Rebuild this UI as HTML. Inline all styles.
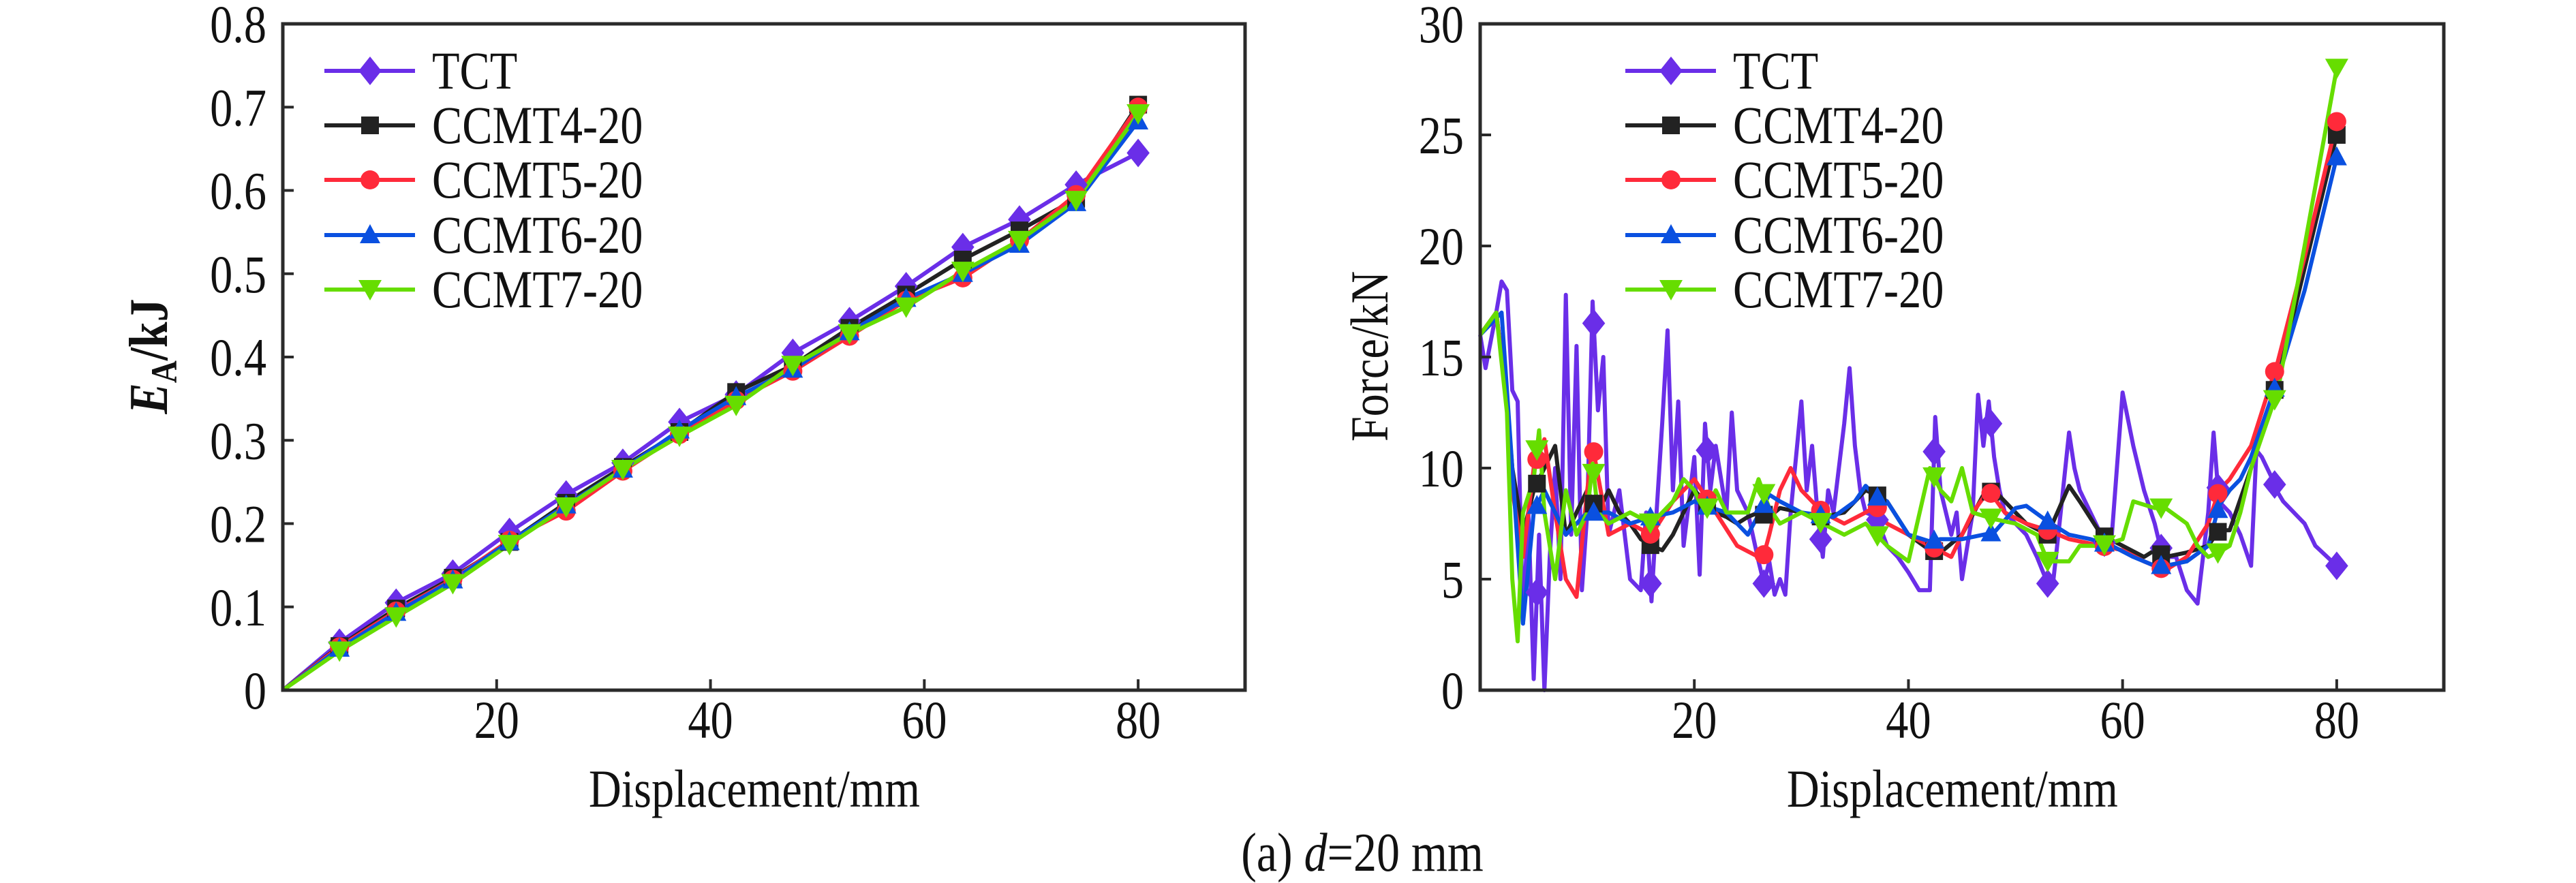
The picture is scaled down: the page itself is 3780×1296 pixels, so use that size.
<!DOCTYPE html>
<html><head><meta charset="utf-8"><style>
html,body{margin:0;padding:0;background:#fff;}
svg{display:block;font-family:"Liberation Serif",serif;}
</style></head><body>
<svg id="fig" width="3780" height="1296" viewBox="0 0 3780 1296"></svg>
<script>
// ---------- data: left chart (energy absorbed) ----------
const eaX = [0,5.3,10.6,15.9,21.2,26.5,31.8,37.1,42.4,47.7,53,58.3,63.6,68.9,74.2,80];
const eaTCT  = [0,0.057,0.105,0.14,0.19,0.235,0.273,0.322,0.355,0.405,0.443,0.485,0.532,0.565,0.607,0.645];
const eaC4   = [0,0.053,0.098,0.135,0.178,0.225,0.268,0.31,0.358,0.39,0.435,0.475,0.517,0.552,0.59,0.703];
const eaC5   = [0,0.052,0.095,0.133,0.18,0.215,0.263,0.307,0.348,0.383,0.425,0.468,0.495,0.54,0.595,0.70];
const eaC6   = [0,0.05,0.093,0.132,0.178,0.222,0.265,0.312,0.352,0.385,0.43,0.47,0.5,0.535,0.585,0.683];
const eaC7   = [0,0.047,0.088,0.128,0.175,0.22,0.265,0.305,0.342,0.39,0.428,0.46,0.503,0.54,0.588,0.692];
const eaYTicks = ["0","0.1","0.2","0.3","0.4","0.5","0.6","0.7","0.8"];
const xTickLabels = ["20","40","60","80"];
const fYTicks = ["0","5","10","15","20","25","30"];
const seriesNames = ["TCT","CCMT4-20","CCMT5-20","CCMT6-20","CCMT7-20"];
const markerX = [5.3,10.6,15.9,21.2,26.5,31.8,37.1,42.4,47.7,53,58.3,63.6,68.9,74.2,80];
// ---------- data: right chart (force) ----------
const fTCTx = [0,0.5,1.5,2,2.5,3,3.5,4,4.5,5,5.5,6,6.5,7,7.5,8,8.5,9,9.5,10,10.5,11,11.5,12,13,14,15,15.5,16,16.5,17,17.5,18,18.5,19,20,20.5,21,21.5,22,23,23.5,24,25,26,26.5,27,27.5,28,28.5,29,30,30.5,31,31.5,32,32.5,33,34,34.5,35,35.5,36,37,38,39,40,41,42,42.5,43,44,44.5,45,46,46.5,47,47.5,48,48.5,49,50,51,52,53,53.5,54,55,55.5,56,57,58,58.5,59,60,61,62,63,63.5,64,65,66,67,68,68.5,69,70,71,72,72.5,73,74,74.5,75,77,78,80];
const fTCTy = [16,14.5,17,18.4,18,13.5,13,3,8,0.5,7,0,6,10,5,17.8,7,15.5,4.5,8,17.5,12.6,15,7,9,5,4.5,8,4,8.2,12,16.2,9,13,6.5,10.5,5.2,12,9,11,8,12.5,9,8,5.8,4.8,5.8,4.3,5,4.3,8,13,9,11,8,6,9,8,12,14.5,11,9,8,7.8,6.5,6,5.3,4.5,4.5,12.3,9,7,8,5,8,13.3,11,13,10.5,9,8,7.5,7,6,4.8,4.8,7,11.6,10,9,8,7,6.4,7,13.4,11,9,7.5,6.5,6,6,4.5,3.9,8,11.6,8.5,8,7,5.6,10.8,10.5,9.5,8.9,8.5,7.5,6.5,5.6];
const fC4x = [0,1.5,2.5,3,4,5,6,7,8,9,10,11,12,13,14,15,16,17,18,19,20,21,22,23,24,25,26,27,28,30,32,34,35,36,37,38,40,42,43,45,47,48,49,51,53,55,56,58,60,62,63,64,66,68,69,70,72,74.5,77,80];
const fC4y = [16,17,13,10,7,9,10,11,7,8,9,8,9,8,7.5,6.8,6.5,6.3,7,8,9,8.5,8,7.8,7.5,7.8,8,7.8,8.2,8,7.8,8,8.5,9,8.8,8.5,7,6.3,6.2,7,8.8,9,8.5,7.5,7,9.2,8.5,7,6.5,6,6.3,6,6.2,6.5,7.2,7.2,10,14,19,25];
const fC5x = [0,1.5,2.5,3,4,5,6,7,8,9,10,10.5,12,14,16,18,20,22,24,26,26.5,27,28,29,30,32,34,36,37,38,40,42,44,46,47.5,49,51,53,55,58,60,62,64,66,68,69,70,72,74.5,77,80];
const fC5y = [16,17,13,9,6,10,11.3,8,5,4.2,9,11,7,7.5,7,8.5,9.5,8,6.5,6,6.1,7,9,10,9,8,7.5,8,8.3,7.5,7,6.5,6,8,9,8,7.5,7.2,6.8,6.5,6.3,5.8,5.4,6,7.5,9,9.5,11,14.8,19.5,25.6];
const fC6x = [0,2,3,4,5,6,8,10,12,14,16,18,20,21,23,25,27,28,30,33,35,36,37,38,40,42,43,45,47,48,50,51,53,55,57,59,61,63,64,66,68,69,70,71,72,74.5,77,80];
const fC6y = [16,17,10,3,8,9,7,8,8,7.5,7.8,8,8.5,8.3,8,7,8.8,8.5,8,7.8,8.5,9.2,8.7,8.5,7,6.7,6.8,6.8,7,7.1,8.2,8.3,7.6,7,6.8,6.5,6,5.6,5.6,5.8,6.5,8.3,9,9.5,10.5,14,18,24];
const fC7x = [0,1.5,2.5,3,3.5,4,5,5.5,6,7,8,9,10,10.5,11,12,14,16,18,19,20,21,22,23,25,26,27,28,30,32,34,36,38,40,42,43,44,45,46,48,50,52,53,55,56,58,60,61,63,64,66,67,68,69,70,71,72,74.5,77,80];
const fC7y = [16,17,12.5,5,2.2,8,9.5,11.7,8,5,9,7,8,10.2,8,7.5,8,7.5,8.5,9.5,9,8,9,8,8,9.5,8.2,7.5,8,7.5,7,7.5,6.5,5.8,10,9,8.5,10,8,7.7,7.5,7,5.8,5.8,6.5,6.5,6.8,8.5,8.2,8.2,7.5,6.5,6,6.2,6.5,8,10,13.5,20,28];

const colors = ["#6a2ee8","#222222","#ff2a3a","#0a50e0","#66dd00"];
const markers = ["diamond","square","circle","triangle","tridown"];
const NS = "http://www.w3.org/2000/svg";
const svg = document.getElementById("fig");
function el(tag, attrs, parent){ const e=document.createElementNS(NS,tag); for(const k in attrs) e.setAttribute(k,attrs[k]); (parent||svg).appendChild(e); return e; }
function txt(parent,x,y,size,anchor,str){
  const t=el("text",{x:0,y:0,transform:`translate(${x} ${y}) scale(0.85 1)`,"text-anchor":anchor,"font-size":size,fill:"#111"},parent);
  t.textContent=str; return t;
}

function marker(g, type, cx, cy, color){
  let m;
  const s=21;
  if(type==="diamond") m=el("polygon",{points:`${cx},${cy-s} ${cx+s*0.8},${cy} ${cx},${cy+s} ${cx-s*0.8},${cy}`,fill:color},g);
  else if(type==="square") m=el("rect",{x:cx-13,y:cy-13,width:26,height:26,fill:color},g);
  else if(type==="circle") m=el("circle",{cx:cx,cy:cy,r:14,fill:color},g);
  else if(type==="triangle") m=el("polygon",{points:`${cx},${cy-16} ${cx+15},${cy+12} ${cx-15},${cy+12}`,fill:color},g);
  else m=el("polygon",{points:`${cx-17},${cy-14} ${cx+17},${cy-14} ${cx},${cy+16}`,fill:color},g);
  
  
}
function interp(xs,ys,x){ for(let i=1;i<xs.length;i++){ if(x<=xs[i]){ const t=(x-xs[i-1])/(xs[i]-xs[i-1]); return ys[i-1]+t*(ys[i]-ys[i-1]); } } return ys[ys.length-1]; }

function chart(opt){
  const L=opt.left, R=opt.right, T=35, B=1013;
  const sx=v=>L+(v/90)*(R-L);
  const sy=v=>B-(v/opt.ymax)*(B-T);
  const g=el("g",{});
  
  
  opt.series.forEach((s,i)=>{
    const pts=s.x.map((x,j)=>sx(x)+","+sy(s.y[j])).join(" ");
    const pl=el("polyline",{points:pts,fill:"none",stroke:colors[i],"stroke-width":6,"stroke-linejoin":"round"},g);
    
    
  });
  opt.series.forEach((s,i)=>{
    markerX.forEach(mx=>{ marker(g,markers[i],sx(mx),sy(interp(s.x,s.y,mx)),colors[i]); });
  });
  const fr=el("rect",{x:L,y:T,width:R-L,height:B-T,fill:"none",stroke:"#2a2a2a","stroke-width":5},g);
  
  
  opt.yticks.forEach((lab,i)=>{
    const v=i*opt.ystep, y=sy(v);
    if(i>0 && i<opt.yticks.length-1) el("line",{x1:L,x2:L+16,y1:y,y2:y,stroke:"#2a2a2a","stroke-width":4},g);
    const t=txt(g,L-24,y+27,78,"end",lab);
    
    
  });
  xTickLabels.forEach(lab=>{
    const x=sx(+lab);
    el("line",{x1:x,x2:x,y1:B,y2:B-16,stroke:"#2a2a2a","stroke-width":4},g);
    const t=txt(g,x,1083,78,"middle",lab);
    
    
  });
  const xt=txt(g,(L+R)/2-(R-L)*0.01,1184,78,"middle","Displacement/mm");
  
  
  seriesNames.forEach((n,i)=>{
    const y=opt.legY[i];
    const lg=el("g",{},g);
    
    
    el("line",{x1:opt.legX,x2:opt.legX+133,y1:y,y2:y,stroke:colors[i],"stroke-width":6},lg);
    marker(lg,markers[i],opt.legX+67,y,colors[i]);
    txt(lg,opt.legX+158,y+26,78,"start",n);
  });
  return g;
}
const legY=[104,184,264,345,425];
chart({name:"energy-chart",left:415,right:1827,ymax:0.8,ystep:0.1,yticks:eaYTicks,legX:476,legY:legY,
  series:[{x:eaX,y:eaTCT},{x:eaX,y:eaC4},{x:eaX,y:eaC5},{x:eaX,y:eaC6},{x:eaX,y:eaC7}]});
chart({name:"force-chart",left:2172,right:3586,ymax:30,ystep:5,yticks:fYTicks,legX:2385,legY:legY,
  series:[{x:fTCTx,y:fTCTy},{x:fC4x,y:fC4y},{x:fC5x,y:fC5y},{x:fC6x,y:fC6y},{x:fC7x,y:fC7y}]});
</script>
<div style="position:absolute;left:0;top:0;width:3780px;height:1296px;pointer-events:none">
<svg width="3780" height="1296" style="position:absolute;left:0;top:0;font-family:'Liberation Serif',serif">
<text x="0" y="0" transform="translate(245 523) rotate(-90) scale(0.85 1)" text-anchor="middle" font-size="80" font-weight="bold" fill="#111"><tspan font-style="italic">E</tspan><tspan font-size="54" dy="14">A</tspan><tspan dy="-14">/kJ</tspan></text>
<text x="0" y="0" transform="translate(2036 523) rotate(-90) scale(0.85 1)" text-anchor="middle" font-size="78" fill="#111">Force/kN</text>
<text x="0" y="0" transform="translate(1999 1278) scale(0.85 1)" text-anchor="middle" font-size="80" fill="#111">(a) <tspan font-style="italic">d</tspan>=20 mm</text>
</svg></div>
</body></html>
